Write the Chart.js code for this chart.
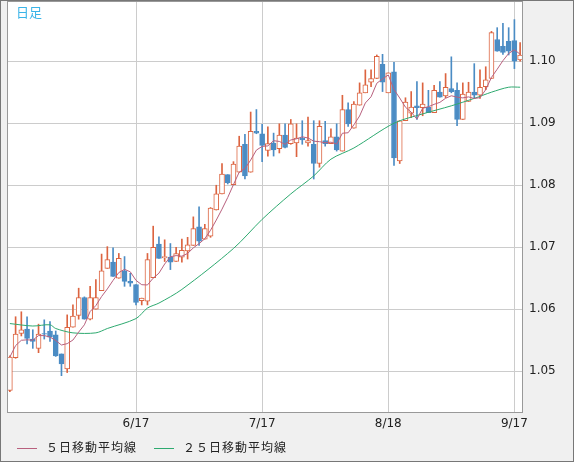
<!DOCTYPE html>
<html>
<head>
<meta charset="utf-8">
<script src="https://cdn.jsdelivr.net/npm/chart.js@4"></script>
<style>
  body { margin: 0; background: #fff; }
  #wrap { position: relative; width: 572px; height: 460px; background: #f0f0f0; border: 1px solid #777; overflow: hidden; }
  canvas { position: absolute; left: -1px; top: -1px; }
  #title { position: absolute; left: 15px; top: 1px; color: #3ab4e8; font: 13px "Noto Sans CJK JP", sans-serif; }
  .leg { position: absolute; top: 437px; font: 12px "Noto Sans CJK JP", sans-serif; letter-spacing: 1px; color: #222; white-space: nowrap; }
  .leg i { display: inline-block; width: 20px; height: 1px; vertical-align: middle; margin-right: 9px; }
</style>
</head>
<body>
<div id="wrap">
  <canvas id="c" width="574" height="462"></canvas>
  <div id="title">日足</div>
  <div class="leg" style="left:16px"><i style="background:#b8607e"></i>５日移動平均線</div>
  <div class="leg" style="left:153px"><i style="background:#2eaa70"></i>２５日移動平均線</div>
</div>
<script>
// Candle data
const opens = [1.0469,1.0522,1.0561,1.0568,1.0552,1.0537,1.0561,1.0565,1.0559,1.0528,
  1.0504,1.0571,1.0590,1.0619,1.0584,1.0600,1.0630,1.0666,1.0676,1.0650,
  1.0662,1.0645,1.0640,1.0614,1.0613,1.0651,1.0705,1.0683,1.0684,1.0677,
  1.0684,1.0694,1.0703,1.0733,1.0713,1.0718,1.0760,1.0786,1.0817,1.0801,
  1.0821,1.0866,1.0821,1.0887,1.0883,1.0856,1.0868,1.0859,1.0881,1.0867,
  1.0868,1.0876,1.0868,1.0866,1.0835,1.0872,1.0867,1.0878,1.0855,1.0922,
  1.0892,1.0929,1.0949,1.0966,1.0972,1.0995,1.0949,1.0983,1.0839,1.0904,
  1.0916,1.0928,1.0925,1.0926,1.0917,1.0950,1.0944,1.0956,1.0953,1.0906,
  1.0935,1.0950,1.0945,1.0959,1.0972,1.1035,1.1024,1.1032,1.1033,1.1002];
const highs = [1.0525,1.0588,1.0596,1.0588,1.0567,1.0576,1.0583,1.0580,1.0565,1.0528,
  1.0591,1.0607,1.0634,1.0620,1.0637,1.0648,1.0689,1.0701,1.0699,1.0690,
  1.0685,1.0658,1.0640,1.0618,1.0690,1.0734,1.0717,1.0712,1.0706,1.0700,
  1.0713,1.0716,1.0749,1.0765,1.0737,1.0764,1.0800,1.0835,1.0817,1.0838,
  1.0879,1.0882,1.0918,1.0922,1.0898,1.0894,1.0884,1.0899,1.0899,1.0906,
  1.0899,1.0904,1.0910,1.0904,1.0904,1.0903,1.0891,1.0899,1.0945,1.0933,
  1.0935,1.0965,1.0986,1.0986,1.1010,1.1011,1.0981,1.0998,1.0904,1.0941,
  1.0951,1.0967,1.0965,1.0953,1.0961,1.0967,1.0980,1.1007,1.0965,1.0965,
  1.0966,1.0996,1.0986,1.0991,1.1048,1.1054,1.1061,1.1054,1.1067,1.1030];
const lows = [1.0467,1.0521,1.0557,1.0544,1.0537,1.0530,1.0552,1.0548,1.0524,1.0493,
  1.0498,1.0571,1.0584,1.0584,1.0583,1.0600,1.0630,1.0666,1.0653,1.0650,
  1.0637,1.0637,1.0607,1.0607,1.0607,1.0651,1.0682,1.0677,1.0664,1.0677,
  1.0676,1.0681,1.0703,1.0703,1.0713,1.0716,1.0760,1.0786,1.0802,1.0801,
  1.0821,1.0810,1.0821,1.0883,1.0838,1.0847,1.0847,1.0852,1.0860,1.0866,
  1.0846,1.0866,1.0863,1.0810,1.0829,1.0863,1.0867,1.0855,1.0855,1.0895,
  1.0892,1.0929,1.0949,1.0959,1.0972,1.0951,1.0949,1.0832,1.0835,1.0904,
  1.0909,1.0906,1.0912,1.0917,1.0917,1.0942,1.0941,1.0949,1.0896,1.0906,
  1.0935,1.0940,1.0940,1.0954,1.0972,1.1016,1.1011,1.1010,1.0988,1.1000];
const closes = [1.0523,1.0560,1.0567,1.0553,1.0548,1.0560,1.0560,1.0555,1.0525,1.0512,
  1.0571,1.0589,1.0619,1.0584,1.0619,1.0619,1.0662,1.0680,1.0653,1.0682,
  1.0645,1.0642,1.0611,1.0618,1.0680,1.0700,1.0682,1.0685,1.0676,1.0690,
  1.0695,1.0704,1.0730,1.0710,1.0730,1.0763,1.0786,1.0818,1.0804,1.0834,
  1.0863,1.0815,1.0887,1.0884,1.0864,1.0867,1.0857,1.0881,1.0861,1.0899,
  1.0876,1.0873,1.0872,1.0835,1.0895,1.0867,1.0878,1.0857,1.0922,1.0899,
  1.0931,1.0949,1.0962,1.0972,1.1008,1.0966,1.0981,1.0844,1.0904,1.0934,
  1.0926,1.0925,1.0931,1.0917,1.0953,1.0942,1.0958,1.0951,1.0906,1.0947,
  1.0950,1.0945,1.0958,1.0970,1.1046,1.1016,1.1014,1.1016,1.1000,1.1010];

// 25-day average read at sample points (index -> value)
const ma25Idx = [0, 4, 7, 8, 11, 15, 17, 22, 24, 26, 30, 39, 44, 49, 53, 56, 60, 67, 72, 77, 81, 84, 87, 89];
const ma25Val = [1.0577,1.0573,1.0575,1.0569,1.0562,1.0562,1.0569,1.0585,1.0602,1.0610,1.0632,1.0698,
  1.0745,1.0786,1.0815,1.0842,1.0860,1.0900,1.0915,1.0928,1.0940,1.0950,1.0958,1.0958];

const tickDays = { 22: '6/17', 44: '7/17', 66: '8/18', 88: '9/17' };
const yTicks = [1.05, 1.06, 1.07, 1.08, 1.09, 1.10];

const UP = '#dc6440', DOWN = '#4b8cc4';
const n = closes.length;
const labels = closes.map((_, i) => tickDays[i] || '');
const isUp = closes.map((c, i) => c >= opens[i]);

const ma5 = closes.map((_, i) => {
  const s = closes.slice(Math.max(0, i - 4), i + 1);
  return s.reduce((a, b) => a + b, 0) / s.length;
});
const ma25 = new Array(n).fill(null);
ma25Idx.forEach((ix, k) => { ma25[ix] = ma25Val[k]; });

const frame = {
  id: 'frame',
  beforeDraw(chart) {
    const { ctx, chartArea: a } = chart;
    ctx.save();
    ctx.fillStyle = '#fff';
    ctx.fillRect(a.left, a.top, a.right - a.left, a.bottom - a.top);
    ctx.restore();
  },
  afterDraw(chart) {
    const { ctx, chartArea: a } = chart;
    ctx.save();
    ctx.strokeStyle = '#999';
    ctx.lineWidth = 1;
    ctx.strokeRect(a.left + 0.5, a.top + 0.5, a.right - a.left - 1, a.bottom - a.top);
    ctx.restore();
  }
};

new Chart(document.getElementById('c'), {
  type: 'bar',
  data: {
    labels,
    datasets: [
      { type: 'line', data: ma5, borderColor: '#b8607e', borderWidth: 1, pointRadius: 0, tension: 0, order: 0 },
      { type: 'line', data: ma25, borderColor: '#2eaa70', borderWidth: 1, pointRadius: 0, tension: 0.3, spanGaps: true, order: 0 },
      {
        data: closes.map((c, i) => [Math.min(opens[i], c), Math.max(opens[i], c) + (Math.abs(opens[i] - c) < 0.00006 ? 0.00006 : 0)]),
        backgroundColor: isUp.map(u => u ? '#fff' : DOWN),
        borderColor: isUp.map(u => u ? UP : DOWN),
        borderWidth: 1, borderSkipped: false, barThickness: 5, grouped: false, order: 1
      },
      {
        data: highs.map((h, i) => [lows[i], h]),
        backgroundColor: isUp.map(u => u ? UP : DOWN),
        borderWidth: 0, barThickness: 1, grouped: false, order: 2
      }
    ]
  },
  options: {
    responsive: false,
    animation: false,
    layout: { padding: { left: 7, top: 1, right: 0, bottom: 30 } },
    plugins: { legend: { display: false }, tooltip: { enabled: false } },
    scales: {
      x: {
        offset: true,
        grid: { offset: false, drawTicks: false, color: ctx => labels[ctx.index] ? '#ccc' : 'rgba(0,0,0,0)' },
        border: { display: false },
        ticks: { autoSkip: false, maxRotation: 0, padding: 5, color: '#222', font: { family: 'DejaVu Sans', size: 12 } },
        afterFit: s => { s.height = 20; s.paddingLeft = 0; s.paddingRight = 0; }
      },
      y: {
        position: 'right',
        min: 1.04344, max: 1.1097,
        afterBuildTicks: s => { s.ticks = yTicks.map(v => ({ value: v })); },
        grid: { drawTicks: false, color: '#ccc' },
        border: { display: false },
        ticks: { padding: 6, color: '#222', font: { family: 'DejaVu Sans', size: 12 }, callback: v => v.toFixed(2) },
        afterFit: s => { s.width = 51; s.paddingTop = 0; s.paddingBottom = 0; }
      }
    }
  },
  plugins: [frame]
});
</script>
</body>
</html>
